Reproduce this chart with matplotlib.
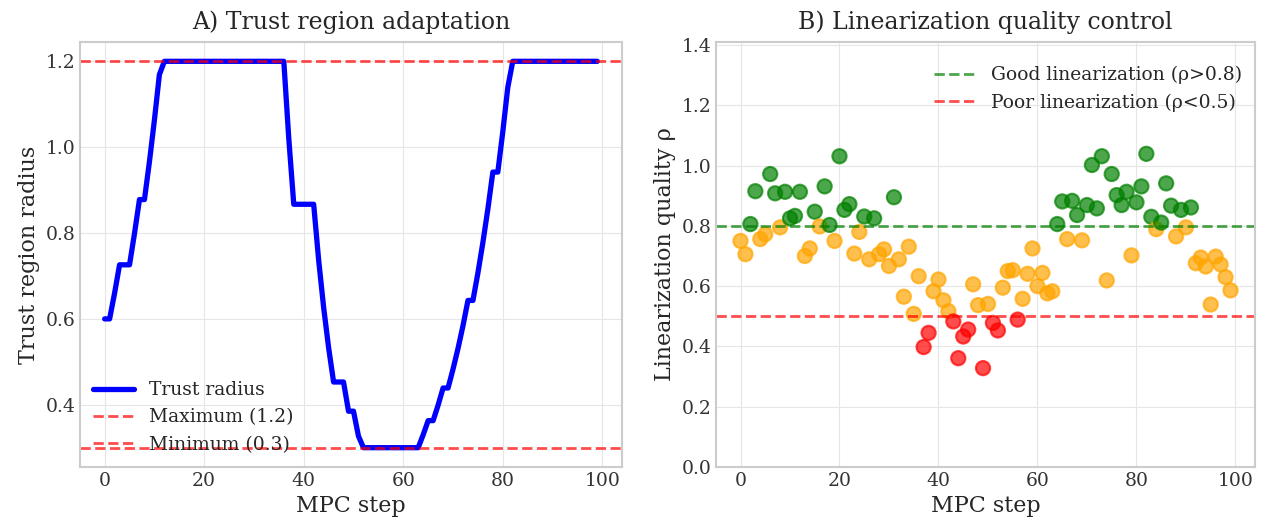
import matplotlib
matplotlib.use("Agg")
import matplotlib.pyplot as plt
import numpy as np

steps = list(range(100))

trust_radius = [
    0.6, 0.6, 0.66, 0.726, 0.726, 0.726, 0.799, 0.878, 0.878, 0.966,
    1.063, 1.169, 1.2, 1.2, 1.2, 1.2, 1.2, 1.2, 1.2, 1.2,
    1.2, 1.2, 1.2, 1.2, 1.2, 1.2, 1.2, 1.2, 1.2, 1.2,
    1.2, 1.2, 1.2, 1.2, 1.2, 1.2, 1.2, 1.02, 0.867, 0.867,
    0.867, 0.867, 0.867, 0.737, 0.627, 0.533, 0.453, 0.453, 0.453, 0.385,
    0.385, 0.327, 0.3, 0.3, 0.3, 0.3, 0.3, 0.3, 0.3, 0.3,
    0.3, 0.3, 0.3, 0.3, 0.33, 0.363, 0.363, 0.399, 0.439, 0.439,
    0.483, 0.531, 0.584, 0.643, 0.643, 0.707, 0.778, 0.856, 0.942, 0.942,
    1.036, 1.139, 1.2, 1.2, 1.2, 1.2, 1.2, 1.2, 1.2, 1.2,
    1.2, 1.2, 1.2, 1.2, 1.2, 1.2, 1.2, 1.2, 1.2, 1.2,
]

rho = [
    0.750, 0.706, 0.806, 0.915, 0.756, 0.772, 0.972, 0.908, 0.795, 0.913,
    0.825, 0.833, 0.913, 0.700, 0.725, 0.847, 0.798, 0.931, 0.803, 0.750,
    1.031, 0.853, 0.872, 0.708, 0.780, 0.831, 0.689, 0.825, 0.706, 0.722,
    0.667, 0.895, 0.689, 0.565, 0.731, 0.508, 0.633, 0.398, 0.445, 0.583,
    0.622, 0.553, 0.517, 0.483, 0.361, 0.433, 0.456, 0.606, 0.537, 0.328,
    0.541, 0.478, 0.453, 0.595, 0.650, 0.653, 0.489, 0.558, 0.641, 0.725,
    0.600, 0.644, 0.576, 0.583, 0.806, 0.881, 0.756, 0.883, 0.836, 0.752,
    0.869, 1.002, 0.858, 1.031, 0.619, 0.972, 0.902, 0.869, 0.913, 0.702,
    0.878, 0.931, 1.039, 0.830, 0.789, 0.811, 0.941, 0.867, 0.765, 0.853,
    0.795, 0.861, 0.676, 0.695, 0.665, 0.539, 0.698, 0.672, 0.630, 0.586,
]

radius_max = 1.2
radius_min = 0.3
good_thr = 0.8
poor_thr = 0.5

plt.style.use("seaborn-v0_8-whitegrid")
plt.rcParams["font.family"] = ["DejaVu Serif"]
plt.rcParams["axes.edgecolor"] = "#cccccc"
plt.rcParams["axes.linewidth"] = 1.5
plt.rcParams["grid.color"] = "#e6e6e6"
plt.rcParams["xtick.color"] = "#333333"
plt.rcParams["ytick.color"] = "#333333"

fig = plt.figure(figsize=(12.63, 5.31), dpi=100)
ax1 = fig.add_axes([80 / 1263, 1 - 467 / 531, 542 / 1263, 425 / 531])
ax2 = fig.add_axes([716 / 1263, 1 - 467 / 531, 539 / 1263, 425 / 531])

ax1.plot(steps, trust_radius, color="blue", lw=3.8, label="Trust radius")
ax1.axhline(radius_max, color="red", ls="--", lw=2, alpha=0.7, label="Maximum (1.2)")
ax1.axhline(radius_min, color="red", ls="--", lw=2, alpha=0.7, label="Minimum (0.3)")
ax1.set_xlabel("MPC step", fontsize=16)
ax1.set_ylabel("Trust region radius", fontsize=16)
ax1.set_title("A) Trust region adaptation", fontsize=17, pad=9)
ax1.set_xticks([0, 20, 40, 60, 80, 100])
ax1.set_yticks([0.4, 0.6, 0.8, 1.0, 1.2])
ax1.tick_params(labelsize=13.5)
ax1.legend(loc="lower left", fontsize=13.5, frameon=False, handlelength=2.2,
           borderaxespad=0.3)

colors = ["green" if r > good_thr else ("red" if r < poor_thr else "orange") for r in rho]
ax2.scatter(steps, rho, c=colors, s=105, alpha=0.7, edgecolors=colors, linewidths=1.5)
ax2.axhline(good_thr, color="green", ls="--", lw=2, alpha=0.7, label="Good linearization (ρ>0.8)")
ax2.axhline(poor_thr, color="red", ls="--", lw=2, alpha=0.7, label="Poor linearization (ρ<0.5)")
ax2.set_ylim(0, 1.41)
ax2.set_xlabel("MPC step", fontsize=16)
ax2.set_ylabel("Linearization quality ρ", fontsize=16)
ax2.set_title("B) Linearization quality control", fontsize=17, pad=9)
ax2.set_xticks([0, 20, 40, 60, 80, 100])
ax2.set_yticks([0.0, 0.2, 0.4, 0.6, 0.8, 1.0, 1.2, 1.4])
ax2.tick_params(labelsize=13.5)
ax2.legend(loc="upper right", bbox_to_anchor=(1.0, 0.974), fontsize=13.5,
           frameon=False, handlelength=2.2, borderaxespad=0.3)

fig.savefig("out.png", dpi=100)
